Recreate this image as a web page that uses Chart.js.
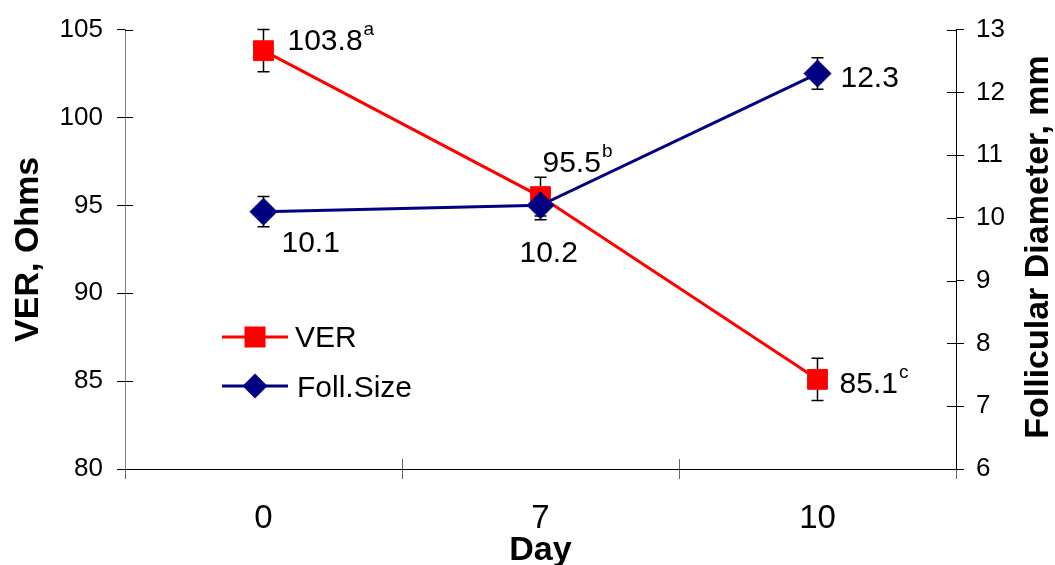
<!DOCTYPE html>
<html>
<head>
<meta charset="utf-8">
<script src="https://cdn.jsdelivr.net/npm/chart.js@4.4.0/dist/chart.umd.min.js"></script>
<style>
  html, body { margin: 0; padding: 0; background: #fff; }
  canvas { display: block; }
</style>
</head>
<body>
<canvas id="chart" width="1055" height="565"></canvas>
<script>
const days = ['0', '7', '10'];
const ver = [103.8, 95.5, 85.1];
const verErr = [1.2, 1.1, 1.2];
const verMarks = ['a', 'b', 'c'];
const foll = [10.1, 10.2, 12.3];
const follErr = [0.24, 0.23, 0.25];
const verTicks = [80, 85, 90, 95, 100, 105];
const follTicks = [6, 7, 8, 9, 10, 11, 12, 13];

const FONT = "'Liberation Sans', Arial, sans-serif";
Chart.defaults.font.family = FONT;
Chart.defaults.color = '#000';

const RED = '#ff0000';
const NAVY = '#000080';

// value labels: offset of text start / baseline from the point
const verLabelPos = [[24, -1], [2, -25], [22, 14]];
const follLabelPos = [[18, 40], [-21, 57], [23, 13]];

function square(ctx, x, y, half, color) {
  ctx.fillStyle = color;
  ctx.fillRect(x - half, y - half, half * 2, half * 2);
}
function diamond(ctx, x, y, half, color) {
  ctx.fillStyle = color;
  ctx.beginPath();
  ctx.moveTo(x, y - half);
  ctx.lineTo(x + half, y);
  ctx.lineTo(x, y + half);
  ctx.lineTo(x - half, y);
  ctx.closePath();
  ctx.fill();
}

const extras = {
  id: 'extras',
  beforeDatasetsDraw(chart) {
    const ctx = chart.ctx;
    const {x, y, y1} = chart.scales;
    const area = chart.chartArea;
    ctx.save();
    // inner halves of the crossing tick marks
    ctx.lineWidth = 1;
    ctx.strokeStyle = '#000';
    ctx.beginPath();
    y.ticks.forEach(t => {
      const py = Math.round(y.getPixelForValue(t.value)) + 0.5;
      ctx.moveTo(area.left, py); ctx.lineTo(area.left + 8, py);
    });
    y1.ticks.forEach(t => {
      const py = Math.round(y1.getPixelForValue(t.value)) + 0.5;
      ctx.moveTo(area.right - 9, py); ctx.lineTo(area.right, py);
    });
    ctx.stroke();
    ctx.strokeStyle = '#666';
    ctx.beginPath();
    for (let i = 1; i < days.length; i++) {
      const px = Math.round((x.getPixelForValue(i - 1) + x.getPixelForValue(i)) / 2) + 0.5;
      ctx.moveTo(px, area.bottom); ctx.lineTo(px, area.bottom - 10);
    }
    ctx.stroke();

    // error bars, under the markers
    ctx.strokeStyle = '#000';
    ctx.lineWidth = 1.5;
    const bars = (vals, errs, sc) => {
      vals.forEach((v, i) => {
        const px = x.getPixelForValue(i);
        const top = sc.getPixelForValue(v + errs[i]);
        const bot = sc.getPixelForValue(v - errs[i]);
        ctx.beginPath();
        ctx.moveTo(px, top); ctx.lineTo(px, bot);
        ctx.moveTo(px - 6, top); ctx.lineTo(px + 6, top);
        ctx.moveTo(px - 6, bot); ctx.lineTo(px + 6, bot);
        ctx.stroke();
      });
    };
    bars(ver, verErr, y);
    bars(foll, follErr, y1);
    ctx.restore();
  },
  afterDatasetsDraw(chart) {
    const ctx = chart.ctx;
    const {x, y, y1} = chart.scales;
    ctx.save();
    ctx.fillStyle = '#000';
    ctx.textAlign = 'left';
    ctx.textBaseline = 'alphabetic';

    ver.forEach((v, i) => {
      const px = x.getPixelForValue(i) + verLabelPos[i][0];
      const py = y.getPixelForValue(v) + verLabelPos[i][1];
      const txt = v.toFixed(1);
      ctx.font = '30px ' + FONT;
      ctx.fillText(txt, px, py);
      const w = ctx.measureText(txt).width;
      ctx.font = '19px ' + FONT;
      ctx.fillText(verMarks[i], px + w + 1, py - 15);
    });
    ctx.font = '30px ' + FONT;
    foll.forEach((v, i) => {
      const px = x.getPixelForValue(i) + follLabelPos[i][0];
      const py = y1.getPixelForValue(v) + follLabelPos[i][1];
      ctx.fillText(v.toFixed(1), px, py);
    });

    // legend
    ctx.lineWidth = 3;
    ctx.strokeStyle = RED;
    ctx.beginPath(); ctx.moveTo(222, 337); ctx.lineTo(288, 337); ctx.stroke();
    square(ctx, 255, 337, 10.5, RED);
    ctx.strokeStyle = NAVY;
    ctx.beginPath(); ctx.moveTo(222, 386); ctx.lineTo(288, 386); ctx.stroke();
    diamond(ctx, 255, 386, 12.5, NAVY);
    ctx.fillStyle = '#000';
    ctx.fillText('VER', 295, 347);
    ctx.fillText('Foll.Size', 297, 397);

    // right axis title, reading bottom to top
    ctx.font = 'bold 34px ' + FONT;
    ctx.textAlign = 'center';
    ctx.translate(1048, 247);
    ctx.rotate(-Math.PI / 2);
    ctx.fillText('Follicular Diameter, mm', 0, 0);
    ctx.restore();
  }
};

new Chart(document.getElementById('chart'), {
  type: 'line',
  data: {
    labels: days,
    datasets: [{
      label: 'VER',
      data: ver,
      yAxisID: 'y',
      borderColor: RED,
      backgroundColor: RED,
      borderWidth: 3,
      pointStyle: 'rect',
      pointRadius: 14,
      pointBorderWidth: 1,
      tension: 0,
      order: 2
    }, {
      label: 'Foll.Size',
      data: foll,
      yAxisID: 'y1',
      borderColor: NAVY,
      backgroundColor: NAVY,
      borderWidth: 3,
      pointStyle: 'rectRot',
      pointRadius: 13.5,
      pointBorderWidth: 1,
      tension: 0,
      order: 1
    }]
  },
  options: {
    responsive: false,
    animation: false,
    events: [],
    layout: { padding: { top: 28, left: 0, right: 0, bottom: 0 } },
    plugins: { legend: { display: false }, tooltip: { enabled: false } },
    scales: {
      x: {
        offset: true,
        grid: { offset: true, drawOnChartArea: false, tickLength: 10, color: '#666' },
        border: { color: '#000', width: 1 },
        ticks: { font: { size: 33 }, padding: 20, maxRotation: 0 },
        title: { display: true, text: 'Day', font: { size: 34, weight: 'bold', lineHeight: 0.87 }, padding: 0 },
        afterFit: s => { s.height = 96; }
      },
      y: {
        position: 'left',
        min: 80, max: 105,
        afterBuildTicks: s => { s.ticks = verTicks.map(v => ({ value: v })); },
        grid: { drawOnChartArea: false, tickLength: 8, color: '#000' },
        border: { color: '#808080', width: 1 },
        ticks: { font: { size: 26 }, padding: 14 },
        title: { display: true, text: 'VER, Ohms', font: { size: 34, weight: 'bold' }, padding: { top: 8, bottom: 0 } },
        afterFit: s => { s.width = 125; }
      },
      y1: {
        position: 'right',
        min: 6, max: 13,
        afterBuildTicks: s => { s.ticks = follTicks.map(v => ({ value: v })); },
        grid: { drawOnChartArea: false, tickLength: 8, color: '#000' },
        border: { color: '#000', width: 1 },
        ticks: { font: { size: 26 }, padding: 12 },
        afterFit: s => { s.width = 99; }
      }
    }
  },
  plugins: [extras]
});
</script>
</body>
</html>
